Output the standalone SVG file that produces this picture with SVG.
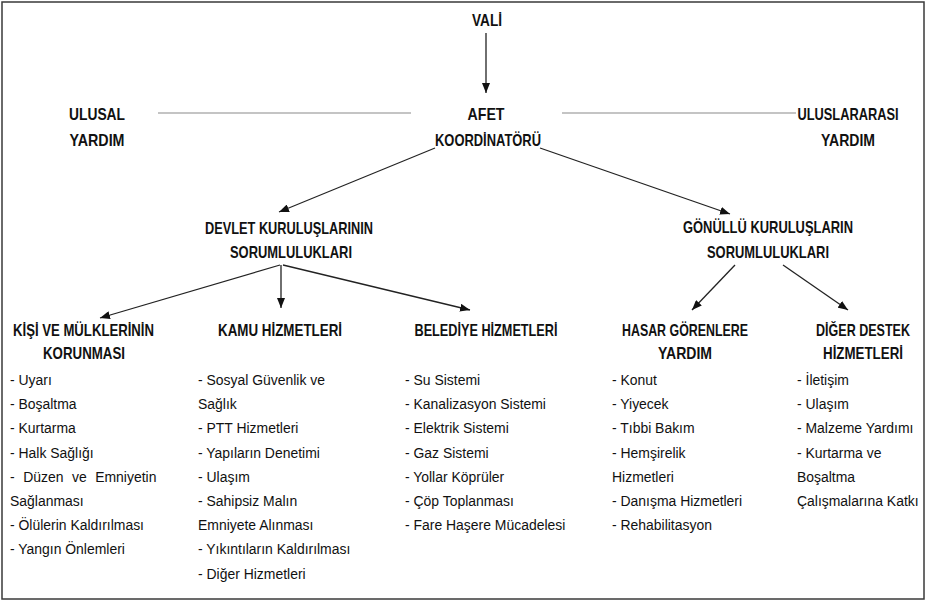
<svg xmlns="http://www.w3.org/2000/svg" width="927" height="601" viewBox="0 0 927 601">
<style>
.h{font-family:"Liberation Sans",Arial,sans-serif;font-weight:bold;font-size:16.5px;fill:#111;text-anchor:middle}
.t{font-family:"Liberation Sans",Arial,sans-serif;font-size:15px;fill:#111}
.a{stroke:#222;stroke-width:1.3;fill:none;marker-end:url(#ah)}
.g{stroke:#8a8a8a;stroke-width:1.2;fill:none}
</style>
<defs>
<marker id="ah" markerUnits="userSpaceOnUse" markerWidth="10" markerHeight="8" refX="10" refY="4" orient="auto">
<path d="M0,0 L10,4 L0,8 z" fill="#111"/>
</marker>
</defs>
<rect x="2" y="2" width="922" height="597" fill="#fff" stroke="#3a3a3a" stroke-width="1.5"/>
<g id="connectors">
<line class="a" x1="486" y1="33" x2="486" y2="93"/>
<line class="g" x1="158" y1="113" x2="411" y2="113"/>
<line class="g" x1="562" y1="113" x2="796" y2="113"/>
<line class="a" x1="435" y1="148" x2="279" y2="212"/>
<line class="a" x1="540" y1="148" x2="730" y2="214"/>
<line class="a" x1="280" y1="265" x2="100" y2="318"/>
<line class="a" x1="281" y1="265" x2="281" y2="308"/>
<line class="a" x1="283" y1="265" x2="470" y2="310"/>
<line class="a" x1="735" y1="265" x2="692" y2="310"/>
<line class="a" x1="783" y1="265" x2="848" y2="310"/>
</g>
<g id="vali"><text class="h" x="487" y="26" textLength="30" lengthAdjust="spacingAndGlyphs">VALİ</text></g>
<g id="afet">
<text class="h" x="486" y="120" textLength="37" lengthAdjust="spacingAndGlyphs">AFET</text>
<text class="h" x="488" y="146" textLength="106" lengthAdjust="spacingAndGlyphs">KOORDİNATÖRÜ</text>
</g>
<g id="ulusal">
<text class="h" x="97" y="120" textLength="56" lengthAdjust="spacingAndGlyphs">ULUSAL</text>
<text class="h" x="97" y="146" textLength="55" lengthAdjust="spacingAndGlyphs">YARDIM</text>
</g>
<g id="uluslararasi">
<text class="h" x="848" y="120" textLength="101" lengthAdjust="spacingAndGlyphs">ULUSLARARASI</text>
<text class="h" x="848" y="146" textLength="54" lengthAdjust="spacingAndGlyphs">YARDIM</text>
</g>
<g id="devlet">
<text class="h" x="289" y="234" textLength="168" lengthAdjust="spacingAndGlyphs">DEVLET KURULUŞLARININ</text>
<text class="h" x="291" y="258" textLength="122" lengthAdjust="spacingAndGlyphs">SORUMLULUKLARI</text>
</g>
<g id="gonullu">
<text class="h" x="768" y="233" textLength="170" lengthAdjust="spacingAndGlyphs">GÖNÜLLÜ KURULUŞLARIN</text>
<text class="h" x="768" y="258" textLength="122" lengthAdjust="spacingAndGlyphs">SORUMLULUKLARI</text>
</g>
<g id="kisi">
<text class="h" x="83.5" y="336" textLength="141" lengthAdjust="spacingAndGlyphs">KİŞİ VE MÜLKLERİNİN</text>
<text class="h" x="84" y="359" textLength="82" lengthAdjust="spacingAndGlyphs">KORUNMASI</text>
<g transform="translate(10,0) scale(0.93,1)">
<text class="t" x="0" y="385">- Uyarı</text>
<text class="t" x="0" y="409.2">- Boşaltma</text>
<text class="t" x="0" y="433.4">- Kurtarma</text>
<text class="t" x="0" y="457.6">- Halk Sağlığı</text>
<text class="t" x="0" y="481.8" word-spacing="5">- Düzen ve Emniyetin</text>
<text class="t" x="0" y="506">Sağlanması</text>
<text class="t" x="0" y="530.2">- Ölülerin Kaldırılması</text>
<text class="t" x="0" y="554.4">- Yangın Önlemleri</text>
</g>
</g>
<g id="kamu">
<text class="h" x="280" y="336" textLength="124" lengthAdjust="spacingAndGlyphs">KAMU HİZMETLERİ</text>
<g transform="translate(198,0) scale(0.93,1)">
<text class="t" x="0" y="385">- Sosyal Güvenlik ve</text>
<text class="t" x="0" y="409.2">Sağlık</text>
<text class="t" x="0" y="433.4">- PTT Hizmetleri</text>
<text class="t" x="0" y="457.6">- Yapıların Denetimi</text>
<text class="t" x="0" y="481.8">- Ulaşım</text>
<text class="t" x="0" y="506">- Sahipsiz Malın</text>
<text class="t" x="0" y="530.2">Emniyete Alınması</text>
<text class="t" x="0" y="554.4">- Yıkıntıların Kaldırılması</text>
<text class="t" x="0" y="578.6">- Diğer Hizmetleri</text>
</g>
</g>
<g id="belediye">
<text class="h" x="486" y="336" textLength="143" lengthAdjust="spacingAndGlyphs">BELEDİYE HİZMETLERİ</text>
<g transform="translate(405,0) scale(0.93,1)">
<text class="t" x="0" y="385">- Su Sistemi</text>
<text class="t" x="0" y="409.2">- Kanalizasyon Sistemi</text>
<text class="t" x="0" y="433.4">- Elektrik Sistemi</text>
<text class="t" x="0" y="457.6">- Gaz Sistemi</text>
<text class="t" x="0" y="481.8">- Yollar Köprüler</text>
<text class="t" x="0" y="506">- Çöp Toplanması</text>
<text class="t" x="0" y="530.2">- Fare Haşere Mücadelesi</text>
</g>
</g>
<g id="hasar">
<text class="h" x="685" y="336" textLength="126" lengthAdjust="spacingAndGlyphs">HASAR GÖRENLERE</text>
<text class="h" x="685" y="359" textLength="54" lengthAdjust="spacingAndGlyphs">YARDIM</text>
<g transform="translate(612,0) scale(0.93,1)">
<text class="t" x="0" y="385">- Konut</text>
<text class="t" x="0" y="409.2">- Yiyecek</text>
<text class="t" x="0" y="433.4">- Tıbbi Bakım</text>
<text class="t" x="0" y="457.6">- Hemşirelik</text>
<text class="t" x="0" y="481.8">Hizmetleri</text>
<text class="t" x="0" y="506">- Danışma Hizmetleri</text>
<text class="t" x="0" y="530.2">- Rehabilitasyon</text>
</g>
</g>
<g id="diger">
<text class="h" transform="translate(863,336) scale(0.76,1)" x="0" y="0">DİĞER DESTEK</text>
<text class="h" x="863" y="359" textLength="80" lengthAdjust="spacingAndGlyphs">HİZMETLERİ</text>
<g transform="translate(797,0) scale(0.93,1)">
<text class="t" x="0" y="385">- İletişim</text>
<text class="t" x="0" y="409.2">- Ulaşım</text>
<text class="t" x="0" y="433.4">- Malzeme Yardımı</text>
<text class="t" x="0" y="457.6">- Kurtarma ve</text>
<text class="t" x="0" y="481.8">Boşaltma</text>
<text class="t" x="0" y="506">Çalışmalarına Katkı</text>
</g>
</g>
</svg>
